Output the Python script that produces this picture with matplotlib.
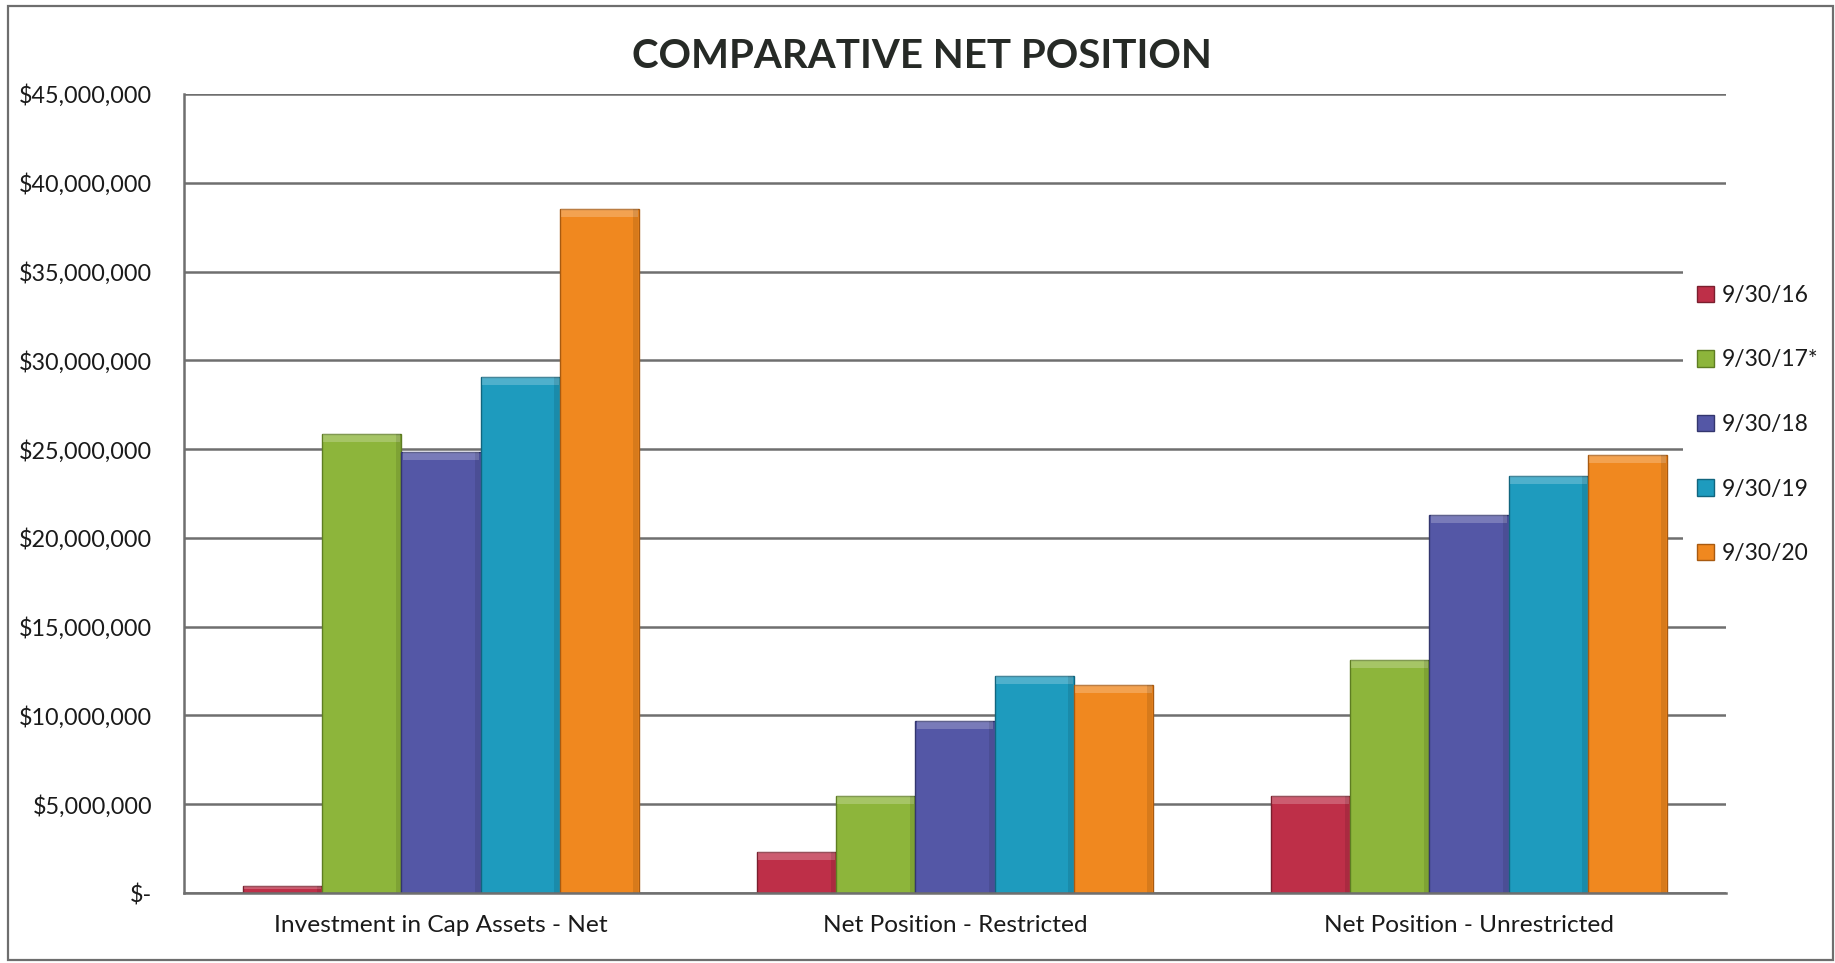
import matplotlib
matplotlib.use("Agg")
import matplotlib.pyplot as plt
from matplotlib.patches import Rectangle
from matplotlib.ticker import FuncFormatter
import numpy as np

# ---- data -------------------------------------------------------------
categories = ["Investment in Cap Assets - Net",
              "Net Position - Restricted",
              "Net Position - Unrestricted"]
series_labels = ["9/30/16", "9/30/17*", "9/30/18", "9/30/19", "9/30/20"]
fy16 = [0.40e6, 2.33e6, 5.46e6]
fy17 = [25.86e6, 5.46e6, 13.11e6]
fy18 = [24.83e6, 9.70e6, 21.27e6]
fy19 = [29.08e6, 12.22e6, 23.50e6]
fy20 = [38.55e6, 11.73e6, 24.68e6]
series_values = [fy16, fy17, fy18, fy19, fy20]
y_ticks = [0, 5e6, 10e6, 15e6, 20e6, 25e6, 30e6, 35e6, 40e6, 45e6]

colors = ["#BE2F48", "#8DB53B", "#5457A6", "#1E9BBE", "#F0881F"]
edges = ["#7A1F2E", "#5E7D22", "#33366E", "#11657E", "#A85A10"]

FONT = "Lato"
plt.rcParams["font.family"] = [FONT, "DejaVu Sans"]

W, H = 1835, 963
fig = plt.figure(figsize=(W / 100, H / 100), dpi=100)
fig.patch.set_facecolor("white")

ax = fig.add_axes([184 / W, 1 - 893 / H, (1726 - 184) / W, (893 - 94) / H])
ax.set_zorder(0)

x = np.arange(len(categories))
n = len(series_values)
group_w = 0.77
bw = group_w / n
for i, (vals, lab) in enumerate(zip(series_values, series_labels)):
    pos = x - group_w / 2 + bw * (i + 0.5)
    ax.bar(pos, vals, width=bw, color=colors[i], edgecolor=edges[i],
           linewidth=1.0, label=lab, zorder=3)
    # bevelled top highlight
    vals_arr = np.asarray(vals)
    band = np.minimum(0.45e6, vals_arr * 0.5)
    ax.bar(pos, band, bottom=vals_arr - band, width=bw * 0.97,
           color="white", alpha=0.22, linewidth=0, zorder=4)
    # darker right side for depth
    ax.bar(pos + bw * 0.46, vals, width=bw * 0.06, color="black",
           alpha=0.10, linewidth=0, zorder=4)

ax.set_xlim(-0.5, 2.5)
ax.set_ylim(0, 45e6)
ax.set_yticks(y_ticks)
ax.yaxis.set_major_formatter(FuncFormatter(
    lambda v, p: "$-" if v == 0 else "${:,.0f}".format(v)))
ax.set_xticks(x)
ax.set_xticklabels(categories)
ax.tick_params(axis="y", length=0, pad=23, labelsize=16.8, labelcolor="#1a1a1a")
ax.tick_params(axis="x", length=0, pad=16, labelsize=17.6, labelcolor="#1a1a1a")

ax.grid(axis="y", color="#6F6F6F", linewidth=1.8, zorder=0)
for s in ["top", "right"]:
    ax.spines[s].set_visible(False)
ax.spines["left"].set_color("#6F6F6F")
ax.spines["left"].set_linewidth(1.8)
ax.spines["bottom"].set_color("#6F6F6F")
ax.spines["bottom"].set_linewidth(1.8)
ax.spines["bottom"].set_zorder(5)

fig.text(922 / W, 1 - 57 / H, "COMPARATIVE NET POSITION", ha="center",
         va="center", fontsize=29, fontweight="bold", color="#262A26")

# white panel behind the legend, hiding the gridline ends
fig.add_artist(Rectangle((1683 / W, 1 - 580 / H), (1830 - 1683) / W,
                         (580 - 245) / H, transform=fig.transFigure,
                         facecolor="white", edgecolor="none", zorder=2))

handles, labels = ax.get_legend_handles_labels()
leg = fig.legend(handles, labels, loc="upper left",
                 bbox_to_anchor=(1674 / W, 1 - 262 / H),
                 frameon=False, borderpad=1.0,
                 fontsize=16.5, handlelength=0.75,
                 handleheight=0.75, handletextpad=0.35, labelspacing=1.9,
                 borderaxespad=0)
leg.set_zorder(3)
for t in leg.get_texts():
    t.set_color("#1a1a1a")

# page frame
fig.add_artist(Rectangle((8 / W, 1 - 960 / H), (1833 - 8) / W, (960 - 6) / H,
                         transform=fig.transFigure, fill=False,
                         edgecolor="#6E6E6E", linewidth=1.6, zorder=10))

fig.savefig("out.png", dpi=100, facecolor="white")
